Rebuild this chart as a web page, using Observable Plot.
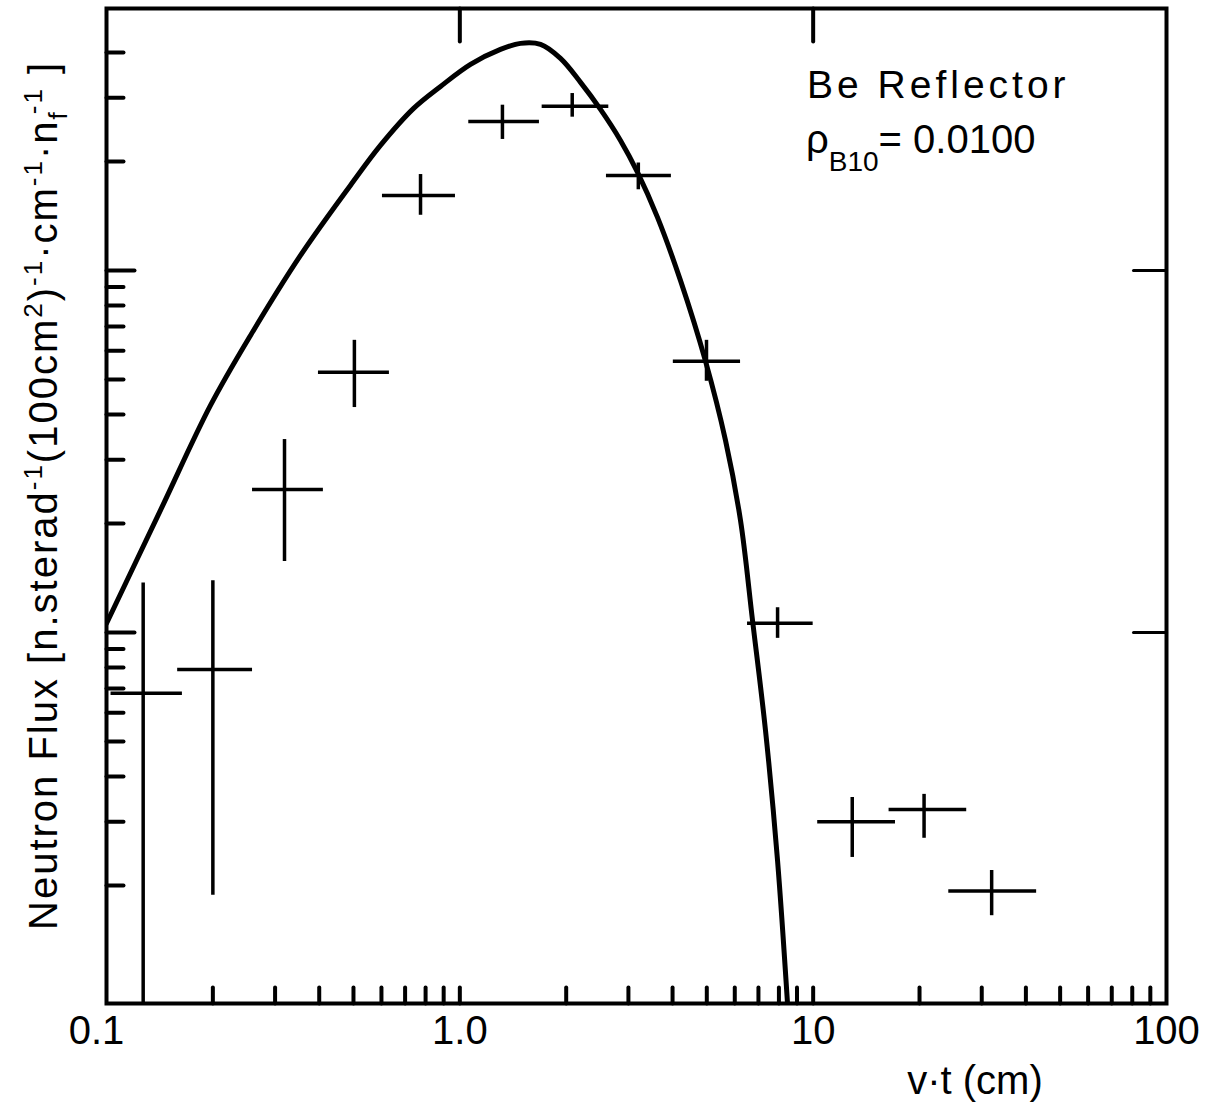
<!DOCTYPE html>
<html><head><meta charset="utf-8">
<script src="https://cdn.jsdelivr.net/npm/d3@7"></script>
<script src="https://cdn.jsdelivr.net/npm/@observablehq/plot@0.6"></script>
<style>body{margin:0;background:#fff}</style>
</head><body><div id="chart"></div>
<script>
// measured data points (v·t bins and neutron flux with errors)
const binLo = [0.103, 0.159, 0.259, 0.398, 0.604, 1.06, 1.71, 2.60, 4.02, 6.52, 10.3, 16.4, 24.2];
const binHi = [0.164, 0.259, 0.411, 0.632, 0.972, 1.68, 2.64, 3.97, 6.23, 10.0, 17.1, 27.2, 42.9];
const xMid  = [0.127, 0.200, 0.319, 0.503, 0.774, 1.32, 2.08, 3.20, 4.99, 7.93, 12.9, 20.6, 32.0];
const yMid  = [0.679, 0.790, 2.48, 5.23, 16.1, 25.8, 28.4, 18.3, 5.61, 1.06, 0.300, 0.324, 0.193];
const yLo   = [0.050, 0.188, 1.57, 4.18, 14.2, 23.0, 26.5, 16.7, 4.94, 0.963, 0.239, 0.270, 0.165];
const yHi   = [1.37, 1.39, 3.41, 6.41, 18.4, 28.6, 30.8, 19.8, 6.41, 1.17, 0.350, 0.357, 0.220];

// calculated curve
const curveX = [0.100, 0.1421, 0.1969, 0.2556, 0.354, 0.490, 0.596, 0.740, 0.882, 1.072, 1.303, 1.485, 1.692, 1.927, 2.196, 2.501, 2.849, 3.184, 3.626, 4.211, 4.960, 5.648, 6.228, 6.736, 7.330, 7.928, 8.50];
const curveY = [1.059, 2.173, 4.237, 6.613, 11.00, 17.17, 22.15, 28.03, 32.23, 37.08, 40.78, 42.38, 42.10, 38.51, 33.07, 27.85, 22.86, 18.65, 14.01, 9.384, 5.607, 3.392, 2.039, 1.079, 0.536, 0.2345, 0.088];

// axis ticks and labels
const xTicksBottom = [0.2,0.3,0.4,0.5,0.6,0.7,0.8,0.9,1,2,3,4,5,6,7,8,9,10,20,30,40,50,60,70,80,90];
const xTicksTop = [1, 10];
const xLabelValues = [0.1, 1, 10, 100];
const xLabels = ["0.1", "1.0", "10", "100"];
const yMajor = [1, 10];
const yMinor = [0.2,0.3,0.4,0.5,0.6,0.7,0.8,0.9,2,3,4,5,6,7,8,9,20,30,40];

const points = xMid.map((x, i) => ({x, y: yMid[i], lo: yLo[i], hi: yHi[i], x1: binLo[i], x2: binHi[i]}));
const curve = curveX.map((x, i) => ({x, y: curveY[i]}));
const labels = xLabelValues.map((v, i) => ({v, t: xLabels[i]}));

const tickShape = {draw(ctx, l) { ctx.moveTo(0, 0); ctx.lineTo(0, -l); }};
const FONT = "'Liberation Sans', Arial, sans-serif";

const chart = Plot.plot({
  width: 1221, height: 1106,
  marginLeft: 106, marginRight: 55, marginTop: 8, marginBottom: 103,
  x: {type: "log", domain: [0.1, 100], axis: null},
  y: {type: "log", domain: [0.0944, 52.9], axis: null},
  style: {background: "white", fontFamily: FONT, color: "black"},
  marks: [
    Plot.vector(xTicksBottom, {x: d => d, frameAnchor: "bottom", rotate: 0, length: 16, anchor: "start", shape: tickShape, stroke: "black", strokeWidth: 4}),
    Plot.vector(xTicksTop, {x: d => d, frameAnchor: "top", rotate: 180, length: 33, anchor: "start", shape: tickShape, stroke: "black", strokeWidth: 4}),
    Plot.vector(yMinor, {y: d => d, frameAnchor: "left", rotate: 90, length: 17, anchor: "start", shape: tickShape, stroke: "black", strokeWidth: 4}),
    Plot.vector(yMajor, {y: d => d, frameAnchor: "left", rotate: 90, length: 28, anchor: "start", shape: tickShape, stroke: "black", strokeWidth: 4}),
    Plot.vector(yMajor, {y: d => d, frameAnchor: "right", rotate: -90, length: 33, anchor: "start", shape: tickShape, stroke: "black", strokeWidth: 3}),
    Plot.ruleX(points, {x: "x", y1: "lo", y2: "hi", stroke: "black", strokeWidth: 3.5, clip: true}),
    Plot.ruleY(points, {y: "y", x1: "x1", x2: "x2", stroke: "black", strokeWidth: 3.5, clip: true}),
    Plot.line(curve, {x: "x", y: "y", curve: "catmull-rom", stroke: "black", strokeWidth: 5, clip: true}),
    Plot.frame({stroke: "black", strokeWidth: 4}),
    Plot.text(labels.slice(0, 1), {x: "v", text: "t", frameAnchor: "bottom", lineAnchor: "top", dy: 12, dx: -10, fontSize: 40, fill: "black"}),
    Plot.text(labels.slice(1), {x: "v", text: "t", frameAnchor: "bottom", lineAnchor: "top", dy: 12, fontSize: 40, fill: "black"})
  ]
});
document.getElementById("chart").appendChild(chart);

const svg = d3.select(chart);
const S = 40;
// y axis label
const yl = svg.append("text").attr("transform", "translate(57,930) rotate(-90)")
  .attr("text-anchor", "start")
  .attr("font-family", FONT).attr("font-size", S).attr("letter-spacing", 2).attr("fill", "black");
const sup = 0.65 * S, up = 15, sb = 10;
yl.append("tspan").text("Neutron Flux [n.sterad");
yl.append("tspan").text("-1").attr("font-size", sup).attr("dy", -up);
yl.append("tspan").text("(100cm").attr("dy", up);
yl.append("tspan").text("2").attr("font-size", sup).attr("dy", -up);
yl.append("tspan").text(")").attr("dy", up);
yl.append("tspan").text("-1").attr("font-size", sup).attr("dy", -up);
yl.append("tspan").text("·cm").attr("dy", up);
yl.append("tspan").text("-1").attr("font-size", sup).attr("dy", -up);
yl.append("tspan").text("·n").attr("dy", up);
yl.append("tspan").text("f").attr("font-size", sup).attr("dy", sb);
yl.append("tspan").text("-1").attr("font-size", sup).attr("dy", -sb - up).attr("dx", -4);
yl.append("tspan").text(" ]").attr("dy", up);

// x axis label
svg.append("text").attr("x", 975).attr("y", 1094).attr("text-anchor", "middle")
  .attr("font-family", FONT).attr("font-size", S).attr("fill", "black").text("v·t (cm)");

// annotation
svg.append("text").attr("x", 807).attr("y", 98).attr("text-anchor", "start")
  .attr("font-family", FONT).attr("font-size", 39).attr("letter-spacing", 4).attr("fill", "black").text("Be Reflector");
const an = svg.append("text").attr("x", 806).attr("y", 153).attr("text-anchor", "start")
  .attr("font-family", FONT).attr("font-size", S).attr("fill", "black");
an.append("tspan").text("ρ");
an.append("tspan").text("B10").attr("font-size", 28).attr("dy", 18);
an.append("tspan").text("= 0.0100").attr("dy", -18);
</script>
</body></html>
